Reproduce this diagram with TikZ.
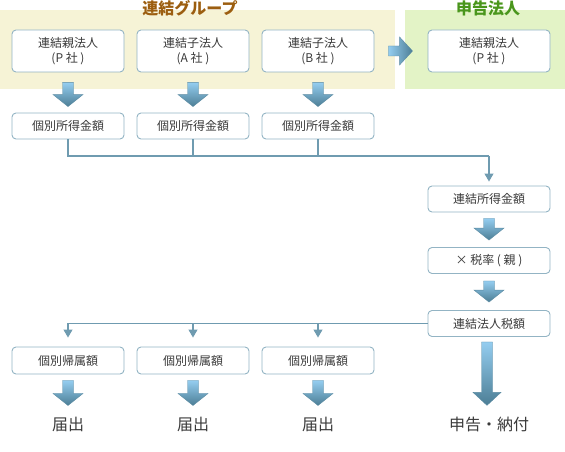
\documentclass[tikz,border=0pt]{standalone}
\usepackage{fontspec}
\setmainfont{Noto Sans CJK JP}
\usetikzlibrary{arrows.meta,calc}
\definecolor{bandY}{HTML}{F6F3D6}
\definecolor{bandG}{HTML}{E3F3C6}
\definecolor{titleY}{HTML}{9C5E10}
\definecolor{titleG}{HTML}{4A961C}
\definecolor{boxline}{HTML}{93B4C4}
\definecolor{connline}{HTML}{6F9BB0}
\definecolor{arrLight}{HTML}{94CDF0}
\definecolor{arrDark}{HTML}{4C7E95}
\definecolor{arrEdge}{HTML}{5B8BA2}
\definecolor{txt}{HTML}{3A3A3A}
\tikzset{
  box/.style={draw=boxline, fill=white, rounded corners=4pt, line width=0.9pt,
    font=\fontsize{12}{15}\selectfont, text=txt, align=center, inner sep=0pt,
    minimum width=112pt},
  tall/.style={minimum height=42pt},
  short/.style={minimum height=26pt},
  conn/.style={draw=connline, line width=1.1pt},
  tipped/.style={-{Triangle[width=9pt,length=8pt]}},
  blk/.style={top color=arrLight, bottom color=arrDark, draw=arrEdge, line width=0.4pt},
  blkh/.style={left color=arrLight, right color=arrDark, draw=arrEdge, line width=0.4pt},
  bigtxt/.style={font=\fontsize{16}{16}\selectfont, text=txt, inner sep=0pt},
  ttl/.style={font=\fontsize{16}{16}\selectfont\bfseries, inner sep=0pt},
}
% block arrow down: #1 from node, #2 to node, #3 top gap, #4 tip gap
\newcommand\blockdown[4]{%
  \shade[blk] let \p1=(#1.south), \p2=(#2.north) in
    (\x1-5.5pt,\y1-#3pt) -- (\x1+5.5pt,\y1-#3pt) -- (\x1+5.5pt,\y2+#4pt+12pt)
    -- (\x1+15pt,\y2+#4pt+12pt) -- (\x1,\y2+#4pt) -- (\x1-15pt,\y2+#4pt+12pt)
    -- (\x1-5.5pt,\y2+#4pt+12pt) -- cycle;}
\begin{document}
\begin{tikzpicture}[x=1pt,y=-1pt]
\useasboundingbox (0,0) rectangle (565,452);
% bands
\fill[bandY] (0,10) rectangle (395,89);
\fill[bandG] (405,10) rectangle (565,89);
\node[ttl, text=titleY] (tg) at (190,8) {連結グループ};
\node[ttl, text=titleG] (tr) at (488,8) {申告法人};
% top row
\node[box,tall] (p) at (68,51) {連結親法人\\(P 社 )};
\node[box,tall] (a) at (193,51) {連結子法人\\(A 社 )};
\node[box,tall] (b) at (318,51) {連結子法人\\(B 社 )};
\node[box,tall,minimum width=122pt] (rp) at (489,51) {連結親法人\\(P 社 )};
% second row
\node[box,short] (i1) at (68,126) {個別所得金額};
\node[box,short] (i2) at (193,126) {個別所得金額};
\node[box,short] (i3) at (318,126) {個別所得金額};
% right column
\node[box,short,minimum width=122pt] (cs) at (489,199) {連結所得金額};
\node[box,short,minimum width=122pt] (rate) at (489,260.5) {× 税率 ( 親 )};
\node[box,short,minimum width=122pt] (tax) at (489,323.5) {連結法人税額};
% attribution row
\node[box,minimum height=27pt] (k1) at (68,360.5) {個別帰属額};
\node[box,minimum height=27pt] (k2) at (193,360.5) {個別帰属額};
\node[box,minimum height=27pt] (k3) at (318,360.5) {個別帰属額};
% bottom texts
\node[bigtxt] (f1) at (68,424) {届出};
\node[bigtxt] (f2) at (193,424) {届出};
\node[bigtxt] (f3) at (318,424) {届出};
\node[bigtxt] (pay) at (489,424) {申告・納付};
% block arrows
\blockdown{p}{i1}{10}{6}
\blockdown{a}{i2}{10}{6}
\blockdown{b}{i3}{10}{6}
\blockdown{cs}{rate}{6}{7}
\blockdown{rate}{tax}{7}{8}
\blockdown{k1}{f1}{6}{11}
\blockdown{k2}{f2}{6}{11}
\blockdown{k3}{f3}{6}{11}
% big arrow
\shade[blk] let \p1=(tax.south), \p2=(pay.north) in
  (\x1-7.5pt,\y1-5pt) -- (\x1+3.5pt,\y1-5pt) -- (\x1+3.5pt,\y2+11pt+13pt)
  -- (\x1+12pt,\y2+11pt+13pt) -- (\x1-2pt,\y2+11pt) -- (\x1-16pt,\y2+11pt+13pt)
  -- (\x1-7.5pt,\y2+11pt+13pt) -- cycle;
% right block arrow
\shade[blkh] let \p1=(b.east), \p2=(rp.west) in
  (\x1+14pt,\y1+5pt) -- (\x2-28pt,\y1+5pt) -- (\x2-28pt,\y1+14pt)
  -- (\x2-15pt,\y1) -- (\x2-28pt,\y1-14pt) -- (\x2-28pt,\y1-5pt)
  -- (\x1+14pt,\y1-5pt) -- cycle;
% connectors upper
\coordinate (hub) at (489,156);
\draw[conn] (i1.south) |- (hub);
\draw[conn] (i2.south) -- (i2.south |- hub);
\draw[conn] (i3.south) -- (i3.south |- hub);
\draw[conn,tipped,shorten >=4pt] (hub) -- (cs.north);
% connectors lower
\draw[conn,tipped,shorten >=9pt] (tax.west) -| (k1.north);
\draw[conn,tipped,shorten >=9pt] (k2.north |- tax.west) -- (k2.north);
\draw[conn,tipped,shorten >=9pt] (k3.north |- tax.west) -- (k3.north);
\end{tikzpicture}
\end{document}
